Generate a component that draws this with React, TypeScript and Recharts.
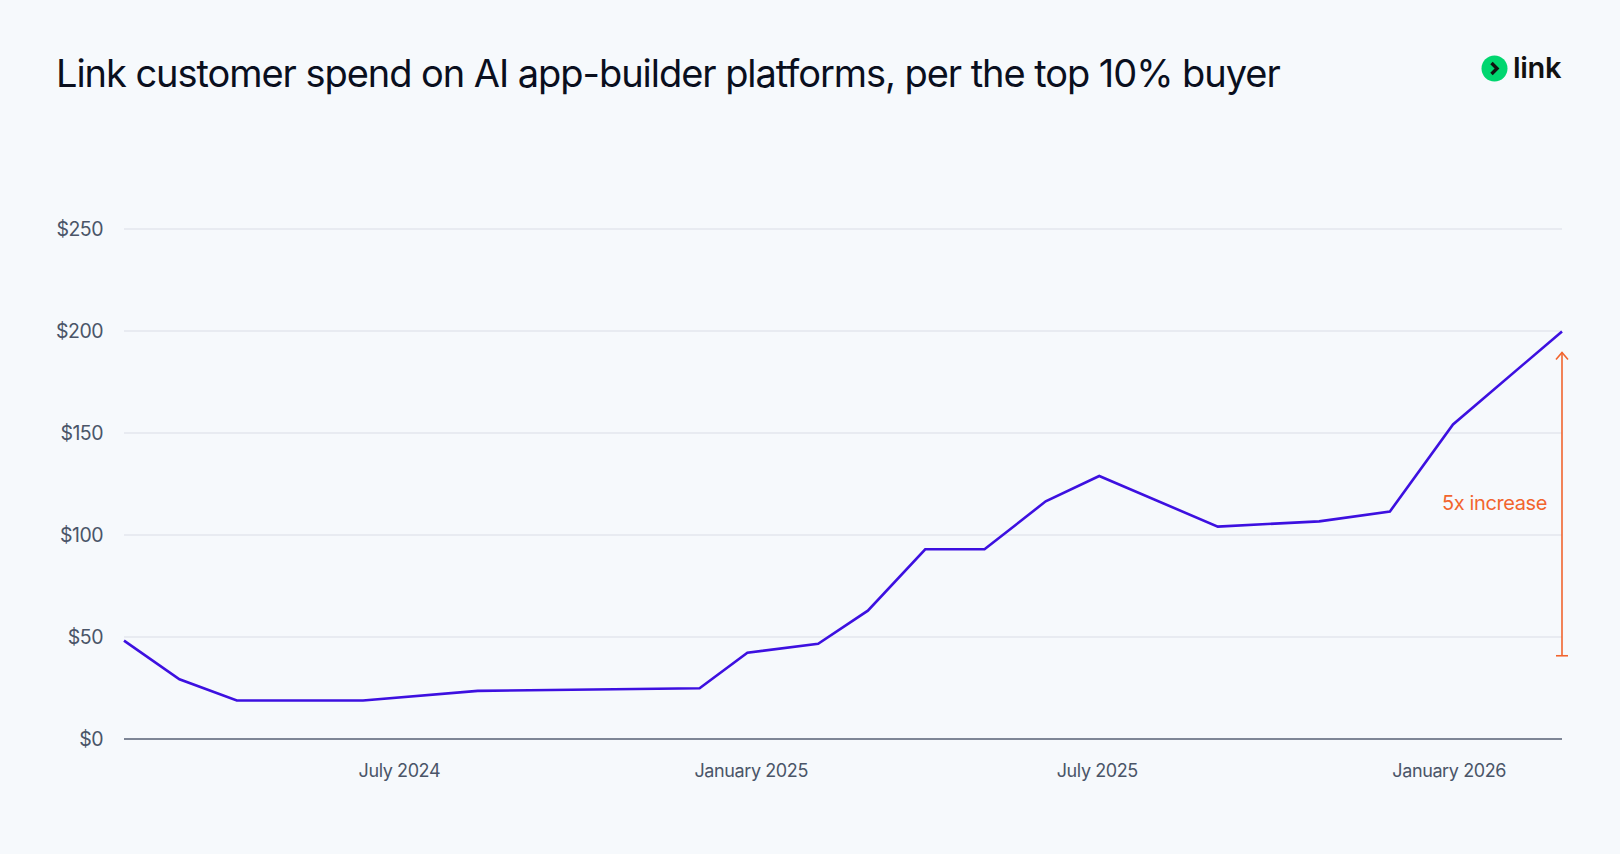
import React from 'react';
import { LineChart, Line, XAxis, YAxis, CartesianGrid, ReferenceLine } from 'recharts';

const dates = [
  '2024-02-08', '2024-03-08', '2024-04-07', '2024-06-12', '2024-08-11', '2024-12-05',
  '2024-12-30', '2025-02-05', '2025-03-03', '2025-04-02', '2025-05-03', '2025-06-04',
  '2025-07-02', '2025-09-02', '2025-10-25', '2025-12-01', '2026-01-03', '2026-03-01',
];
const spend = [
  48.2, 29.3, 18.9, 18.9, 23.6, 24.9,
  42.3, 46.7, 62.9, 93.0, 93.0, 116.5,
  128.9, 104.1, 106.7, 111.5, 154.2, 199.8,
];
const xTickDates = ['2024-07-01', '2025-01-01', '2025-07-01', '2026-01-01'];
const xTickLabels = ['July 2024', 'January 2025', 'July 2025', 'January 2026'];
const yTicks = [0, 50, 100, 150, 200, 250];
const increaseFrom = 40.8;
const increaseTo = 189.5;

const toTime = (d: string) => Date.parse(d);

const chartData = dates.map((d, i) => ({ t: toTime(d), spend: spend[i] }));
const xTicks = xTickDates.map(toTime);

if (typeof document !== 'undefined') {
  document.body.style.margin = '0';
}

const FONT = 'Inter, "Noto Sans", sans-serif';
const SLATE = '#4a5568';
const ORANGE = '#f2652e';

const YTick = (props: any) => {
  const { x, y, payload } = props;
  return (
    <text x={x - 13} y={y} dy={6.5} textAnchor="end" fill={SLATE} fontSize={19.5} fontFamily={FONT} letterSpacing={-0.5}>
      ${payload.value}
    </text>
  );
};

const XTick = (props: any) => {
  const { x, y, payload } = props;
  const idx = xTicks.indexOf(payload.value);
  return (
    <text x={x} y={y + 30} textAnchor="middle" fill={SLATE} fontSize={18} fontFamily={FONT} letterSpacing={-0.4}>
      {xTickLabels[idx]}
    </text>
  );
};

const IncreaseMarker = (props: any) => {
  const { x1, y1, x2, y2 } = props;
  const top = Math.min(y1, y2);
  const bottom = Math.max(y1, y2);
  const x = x1;
  return (
    <g>
      <line x1={x} y1={top} x2={x} y2={bottom} stroke={ORANGE} strokeWidth={1.6} />
      <polyline points={`${x - 6},${top + 7} ${x},${top} ${x + 6},${top + 7}`} fill="none" stroke={ORANGE} strokeWidth={1.6} />
      <line x1={x - 6} y1={bottom} x2={x + 6} y2={bottom} stroke={ORANGE} strokeWidth={1.6} />
      <text x={x - 15} y={(top + bottom) / 2} dy={6} textAnchor="end" fill={ORANGE} fontSize={20} fontFamily={FONT} letterSpacing={-0.4}>
        5x increase
      </text>
    </g>
  );
};

export default function App() {
  const last = chartData[chartData.length - 1].t;
  return (
    <div style={{ position: 'relative', width: 1620, height: 854, background: '#f6f9fc', fontFamily: FONT }}>
      <div
        style={{
          position: 'absolute', left: 56, top: 47, fontSize: 38, color: '#0a0f1e',
          letterSpacing: -1.05, whiteSpace: 'nowrap', lineHeight: '52px',
        }}
      >
        Link customer spend on AI app-builder platforms, per the top 10% buyer
      </div>
      <div style={{ position: 'absolute', left: 1481, top: 53, display: 'flex', alignItems: 'center' }}>
        <svg width={27} height={27} viewBox="0 0 27 27">
          <circle cx={13.5} cy={13.5} r={13} fill="#00d66f" />
          <polyline points="10.5,8 16,13.5 10.5,19" fill="none" stroke="#111" strokeWidth={3.4} strokeLinejoin="miter" />
        </svg>
        <span style={{ marginLeft: 5, fontSize: 29, fontWeight: 600, color: '#111', letterSpacing: -0.3, lineHeight: '30px' }}>
          link
        </span>
      </div>
      <LineChart
        width={1620}
        height={854}
        data={chartData}
        margin={{ top: 229, right: 58, left: 0, bottom: 0 }}
        style={{ position: 'absolute', left: 0, top: 0 }}
      >
        <CartesianGrid vertical={false} stroke="#d9dee6" strokeWidth={1.2} />
        <XAxis
          dataKey="t"
          type="number"
          scale="time"
          domain={[chartData[0].t, last]}
          ticks={xTicks}
          tick={<XTick />}
          tickLine={false}
          axisLine={{ stroke: '#5b6577', strokeWidth: 1.4 }}
          height={115}
          interval={0}
        />
        <YAxis
          domain={[0, 250]}
          ticks={yTicks}
          tick={<YTick />}
          tickLine={false}
          axisLine={false}
          width={124}
          interval={0}
        />
        <ReferenceLine
          segment={[{ x: last, y: increaseFrom }, { x: last, y: increaseTo }]}
          shape={<IncreaseMarker />}
          ifOverflow="visible"
        />
        <Line
          type="linear"
          dataKey="spend"
          stroke="#3d10e0"
          strokeWidth={2.6}
          dot={false}
          activeDot={false}
          isAnimationActive={false}
        />
      </LineChart>
    </div>
  );
}
